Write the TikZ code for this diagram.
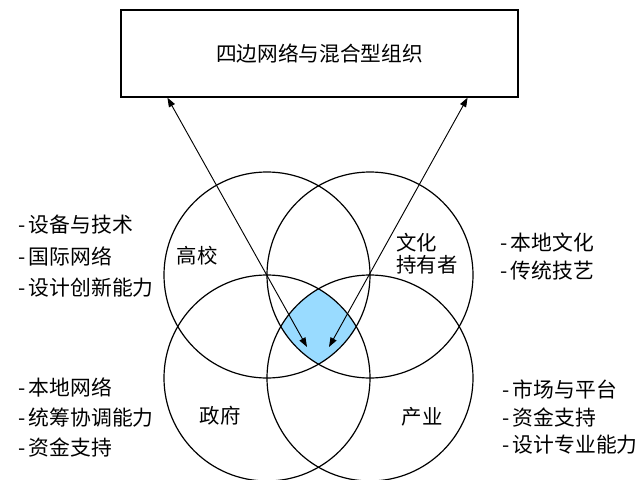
\documentclass[tikz,border=0pt]{standalone}
\usepackage{fontspec}
\newfontfamily\cjk{Noto Sans CJK SC}
\usepackage{tikz}
\usetikzlibrary{calc, %for relative coord calculations
                arrows.meta, % for triangle tips
                positioning}
\definecolor{hubblue}{RGB}{153,219,255}

\begin{document}
\begin{tikzpicture}[x=0.75pt, y=-0.75pt,
                    Ring/.style={draw, line width=0.9pt},
                    Tag/.style={font=\cjk\fontsize{15.3}{18}\selectfont, inner sep=0pt},
                    List/.style={Tag, align=left, anchor=west},
                    Link/.style={{Triangle[length=7pt,width=5pt]}-{Triangle[length=7pt,width=5pt]}, line width=0.7pt}
                    ]
    \useasboundingbox (0,0) rectangle (636,479);

    % TOP BOX %
    \node[draw, line width=0.9pt, minimum width=297.75pt, minimum height=65.25pt,
          font=\cjk\fontsize{15.5}{18}\selectfont] (org) at (319.5,53.5) {四边网络与混合型组织};

    % RINGS %
    \newdimen\R
    \R=77.25pt
    \coordinate (cUni) at (267,275);
    \coordinate (cCul) at (370,275);
    \coordinate (cGov) at (267,378);
    \coordinate (cInd) at (370,378);

    \begin{scope}
        \clip (cUni) circle[radius=\R];
        \clip (cCul) circle[radius=\R];
        \clip (cGov) circle[radius=\R];
        \fill[hubblue] (cInd) circle[radius=\R];
    \end{scope}

    \foreach \c in {cUni,cCul,cGov,cInd}{
    \draw[Ring] (\c) circle[radius=\R];
    }

    % LABELS %
    \node[Tag] (uni) at (197,256) {高校};
    \node[Tag, align=left, anchor=west, font=\cjk\fontsize{15.3}{16.5}\selectfont] (cul) at (396,254) {文化\\持有者};
    \node[Tag] (gov) at (220,416) {政府};
    \node[Tag] (ind) at (422,417) {产业};

    % LISTS %
    \node[List, font=\cjk\fontsize{15.6}{23.6}\selectfont] (uniList) at (18,256.5) {-\,设备与技术\\-\,国际网络\\-\,设计创新能力};
    \node[List, font=\cjk\fontsize{15.6}{20.3}\selectfont] (culList) at (500,256.5) {-\,本地文化\\-\,传统技艺};
    \node[List, font=\cjk\fontsize{15.6}{22.2}\selectfont] (govList) at (18,417.5) {-\,本地网络\\-\,统筹协调能力\\-\,资金支持};
    \node[List, font=\cjk\fontsize{15.6}{20.6}\selectfont] (indList) at (502,417.5) {-\,市场与平台\\-\,资金支持\\-\,设计专业能力};

    % ARROWS %
    \coordinate (upL) at ($(org.south west)+(47,0)$);
    \coordinate (upR) at ($(org.south east)+(-51,0)$);
    \coordinate (hubL) at (307,347);
    \coordinate (hubR) at (329,347);
    \draw[Link] (upL) -- (hubL);
    \draw[Link] (upR) -- (hubR);

\end{tikzpicture}
\end{document}
